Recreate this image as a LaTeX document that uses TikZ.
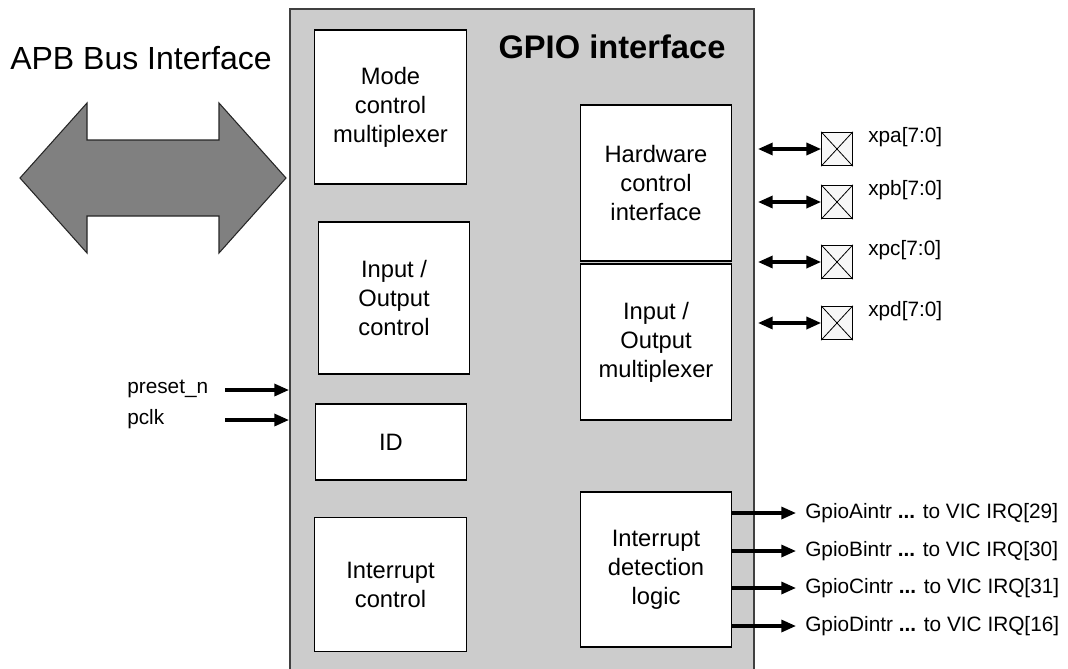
\documentclass[tikz,border=0pt]{standalone}
\usepackage{fontspec}
\setmainfont{Liberation Sans}
\usetikzlibrary{arrows.meta}

\tikzset{
  blk/.style={draw=black, fill=white, line width=0.8pt, align=center, font=\fontsize{17.8}{21.75}\selectfont, minimum width=113.5pt},
  lbl/.style={font=\fontsize{15.6}{18}\selectfont, inner sep=0pt},
  sig/.style={line width=2.4pt, -{Triangle[length=11pt,width=9pt]}},
  bidir/.style={line width=2.4pt, {Triangle[length=11pt,width=9pt]}-{Triangle[length=11pt,width=9pt]}},
  pad/.style={draw=black, fill=black!3, line width=0.8pt, minimum width=23pt, minimum height=25pt, inner sep=0pt}
}

\begin{document}
\begin{tikzpicture}[x=0.75pt, y=-0.75pt]
   \useasboundingbox (0,0) rectangle (1068,668);

   % GPIO block
   \node [draw=black!75, fill=black!20, line width=1.2pt, minimum width=348pt, minimum height=520pt, anchor=north west, inner sep=0pt] (gpio) at (289,8) {};
   \node [font=\fontsize{24.5}{28}\selectfont\bfseries] (title) at (612,47) {GPIO interface};

   % APB bus arrow
   \node [font=\fontsize{24}{27}\selectfont, anchor=west, inner sep=0pt] (apb) at (10,58) {APB Bus Interface};
   \draw [fill=black!50, draw=black!85, line width=0.8pt] (20,178) -- (87,103) -- (87,140) -- (219,140) -- (219,103) -- (286,178)
      -- (219,253) -- (219,216) -- (87,216) -- (87,253) -- cycle;

   % inner blocks
   \node [blk, minimum height=115.5pt] (mode) at (390.5,107) {Mode\\control\\multiplexer};
   \node [blk, minimum height=114pt] (ioc) at (394,298) {Input /\\Output\\control};
   \node [blk, minimum height=57pt] (id) at (391,442) {ID};
   \node [blk, minimum height=100pt] (intc) at (390.5,584.5) {Interrupt\\control};
   \node [blk, minimum height=117pt] (hw) at (656,183) {Hardware\\control\\interface};
   \node [blk, minimum height=117pt] (iom) at (656,342) {Input /\\Output\\multiplexer};
   \node [blk, minimum height=116.25pt] (idl) at (656,569.5) {Interrupt\\detection\\logic};

   % reset and clock
   \node [lbl, anchor=west] (rst) at (127,389) {preset\_n};
   \node [lbl, anchor=west] (clk) at (127,419) {pclk};
   \coordinate (rsts) at (225,390);
   \coordinate (clks) at (225,420);
   \draw [sig] (rsts) -- (rsts -| gpio.west);
   \draw [sig] (clks) -- (clks -| gpio.west);

   % port pins
   \foreach \p/\y in {a/149, b/202, c/262, d/323} {
     \node [pad] (pad\p) at (837,\y) {};
     \draw [line width=0.6pt] (pad\p.north west) -- (pad\p.south east) (pad\p.south west) -- (pad\p.north east);
     \coordinate (pin\p) at (758,\y);
     \draw [bidir] (pin\p) -- (pad\p.west);
     \node [lbl, anchor=west] (name\p) at (868,\y-12) {xp\p[7:0]};
   }

   % interrupt lines
   \foreach \p/\y/\q in {A/513/29, B/551/30, C/588/31, D/626/16} {
     \coordinate (irq\p) at (796,\y);
     \draw [sig] (idl.east |- irq\p) -- (irq\p);
     \node [lbl, anchor=west] (out\p) at (805,\y) {Gpio\p intr \textbf{...} to VIC IRQ[\q]};
   }
\end{tikzpicture}
\end{document}
